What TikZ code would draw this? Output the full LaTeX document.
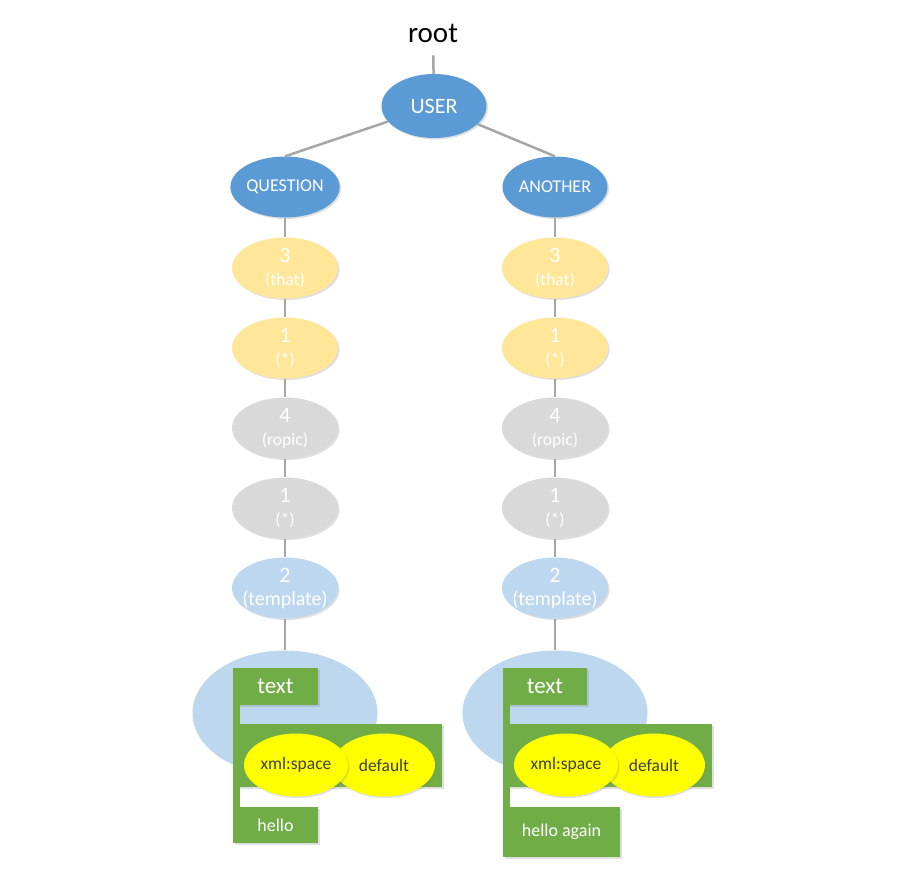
\documentclass[tikz,border=0pt]{standalone}
\usepackage{fontspec}
\setmainfont{Carlito}
\usetikzlibrary{shapes.geometric, shadows, calc}
\definecolor{headblue}{HTML}{5B9BD5}
\definecolor{tan}{HTML}{FFE699}
\definecolor{pale}{HTML}{D9D9D9}
\definecolor{lightblue}{HTML}{BDD7EE}
\definecolor{leaf}{HTML}{70AD47}
\definecolor{attr}{HTML}{FFFF00}
\definecolor{attrtext}{HTML}{404040}
\definecolor{wire}{HTML}{A6A6A6}
\newcommand{\lvl}[2]{{\fontsize{22}{23}\selectfont #1}\\\makebox[0pt]{#2}}
\tikzstyle{shade} = [drop shadow={opacity=0.25, shadow xshift=1.5pt, shadow yshift=-1.5pt}]
\tikzstyle{head} = [ellipse, fill=headblue, text=white, minimum width=105pt, minimum height=61pt, inner sep=0pt, font=\fontsize{18}{18}\selectfont, shade]
\tikzstyle{stage} = [ellipse, text=white, minimum width=106pt, minimum height=61pt, inner sep=0pt, align=center, font=\fontsize{17.5}{23}\selectfont, shade]
\tikzstyle{element} = [ellipse, fill=lightblue, minimum width=185pt, minimum height=125pt]
\tikzstyle{leafbox} = [rectangle, fill=leaf, text=white, inner sep=0pt, font=\fontsize{18}{18}\selectfont, shade]
\tikzstyle{attrib} = [ellipse, fill=attr, text=attrtext, minimum width=104pt, minimum height=63pt, inner sep=0pt, font=\fontsize{17.5}{18}\selectfont, shade]
\tikzstyle{line} = [draw, wire, line width=2.5pt]

\begin{document}
\begin{tikzpicture}[x=1pt, y=-1pt, node distance=80pt]
    \fill [white] (0,0) rectangle (900,889);
    \useasboundingbox (0,0) rectangle (900,889);
    % Place nodes
    \node [anchor=base, inner ysep=13pt, font=\fontsize{29}{29}\selectfont] (root) at (433,42) {root};
    \node [head, minimum height=64pt, font=\fontsize{22}{22}\selectfont] (user) at (434,106) {USER};
    \node [head] (question) at (285,187) {QUESTION};
    \node [head, right of=question, node distance=270pt] (another) {ANOTHER};
    % left branch
    \node [stage, fill=tan, below of=question, node distance=81pt] (thatL) {\lvl{3}{(that)}};
    \node [stage, fill=tan, below of=thatL] (starL) {\lvl{1}{(*)}};
    \node [stage, fill=pale, below of=starL] (ropicL) {\lvl{4}{(ropic)}};
    \node [stage, fill=pale, below of=ropicL] (anyL) {\lvl{1}{(*)}};
    \node [stage, fill=lightblue, below of=anyL] (tmplL) {\lvl{2}{\fontsize{20}{23}\selectfont(template)}};
    \node [element, below of=tmplL, node distance=125pt] (elemL) {};
    % right branch
    \node [stage, fill=tan, below of=another, node distance=81pt] (thatR) {\lvl{3}{(that)}};
    \node [stage, fill=tan, below of=thatR] (starR) {\lvl{1}{(*)}};
    \node [stage, fill=pale, below of=starR] (ropicR) {\lvl{4}{(ropic)}};
    \node [stage, fill=pale, below of=ropicR] (anyR) {\lvl{1}{(*)}};
    \node [stage, fill=lightblue, below of=anyR] (tmplR) {\lvl{2}{\fontsize{20}{23}\selectfont(template)}};
    \node [element, below of=tmplR, node distance=125pt] (elemR) {};
    % green boxes, left
    \node [leafbox, minimum width=85pt, minimum height=37pt, font=\fontsize{23}{23}\selectfont] (txtL) at (275.5,686.5) {text};
    \node [leafbox, minimum width=209pt, minimum height=63pt] (attrsL) at (337.5,755.5) {};
    \node [leafbox, minimum width=85pt, minimum height=36pt] (helloL) at (275.5,825) {hello};
    \fill [leaf] (txtL.south west) rectangle ($(helloL.north west)+(7,0)$);
    \node [attrib, minimum width=102pt] (defL) at (384,765) {default};
    \node [attrib] (xmlL) at (296,765) {xml:space};
    % green boxes, right
    \node [leafbox, minimum width=84pt, minimum height=37pt, font=\fontsize{23}{23}\selectfont] (txtR) at (545,686.5) {text};
    \node [leafbox, minimum width=209pt, minimum height=63pt] (attrsR) at (607.5,755.5) {};
    \node [leafbox, minimum width=117pt, minimum height=50pt] (helloR) at (561.5,832) {hello again};
    \fill [leaf] (txtR.south west) rectangle ($(helloR.north west)+(7,0)$);
    \node [attrib, minimum width=102pt] (defR) at (654,765) {default};
    \node [attrib] (xmlR) at (566,765) {xml:space};
    % Draw edges
    \path [line] (root) -- (user);
    \path [line] (user) -- (question.north);
    \path [line] (user) -- (another.north);
    \path [line] (question) -- (thatL);
    \path [line] (thatL) -- (starL);
    \path [line] (starL) -- (ropicL);
    \path [line] (ropicL) -- (anyL);
    \path [line] (anyL) -- (tmplL);
    \path [line] (tmplL) -- (elemL);
    \path [line] (another) -- (thatR);
    \path [line] (thatR) -- (starR);
    \path [line] (starR) -- (ropicR);
    \path [line] (ropicR) -- (anyR);
    \path [line] (anyR) -- (tmplR);
    \path [line] (tmplR) -- (elemR);
\end{tikzpicture}
\end{document}
